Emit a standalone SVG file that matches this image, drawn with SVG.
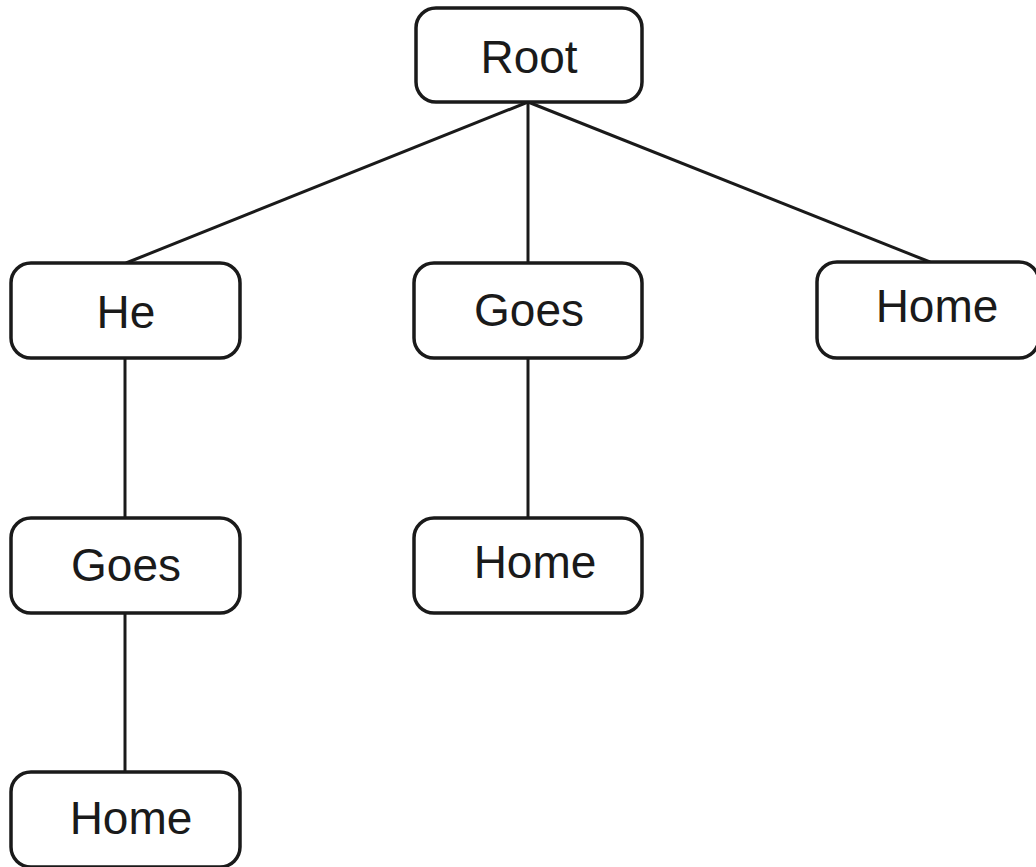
<svg xmlns="http://www.w3.org/2000/svg" width="1036" height="867" viewBox="0 0 1036 867">
<style>
.box{fill:#fff;stroke:#1a1a1a;stroke-width:3.5}
.lbl{font-family:"Liberation Sans",Arial,sans-serif;font-size:46px;fill:#1a1a1a;text-anchor:middle}
.edge{stroke:#1a1a1a;stroke-width:3;fill:none}
</style>
<rect width="1036" height="867" fill="#fff"/>
<g id="connectors">
<line class="edge" x1="528" y1="102" x2="126" y2="263"/>
<line class="edge" x1="528" y1="102" x2="528" y2="263"/>
<line class="edge" x1="528" y1="102" x2="930" y2="262"/>
<line class="edge" x1="125" y1="358" x2="125" y2="518"/>
<line class="edge" x1="528" y1="358" x2="528" y2="518"/>
<line class="edge" x1="125" y1="613" x2="125" y2="772"/>
</g>
<g id="root"><rect class="box" x="416" y="8" width="226" height="94" rx="20"/><text class="lbl" x="529" y="73">Root</text></g>
<g id="he"><rect class="box" x="11" y="263" width="229" height="95" rx="20"/><text class="lbl" x="126" y="328">He</text></g>
<g id="goes1"><rect class="box" x="414" y="263" width="228" height="95" rx="20"/><text class="lbl" x="529" y="326">Goes</text></g>
<g id="home1"><rect class="box" x="817" y="262" width="222" height="96" rx="20"/><text class="lbl" x="937" y="322">Home</text></g>
<g id="goes2"><rect class="box" x="11" y="518" width="229" height="95" rx="20"/><text class="lbl" x="126" y="581">Goes</text></g>
<g id="home2"><rect class="box" x="414" y="518" width="228" height="95" rx="20"/><text class="lbl" x="535" y="578">Home</text></g>
<g id="home3"><rect class="box" x="11" y="772" width="229" height="95" rx="20"/><text class="lbl" x="131" y="834">Home</text></g>
</svg>
